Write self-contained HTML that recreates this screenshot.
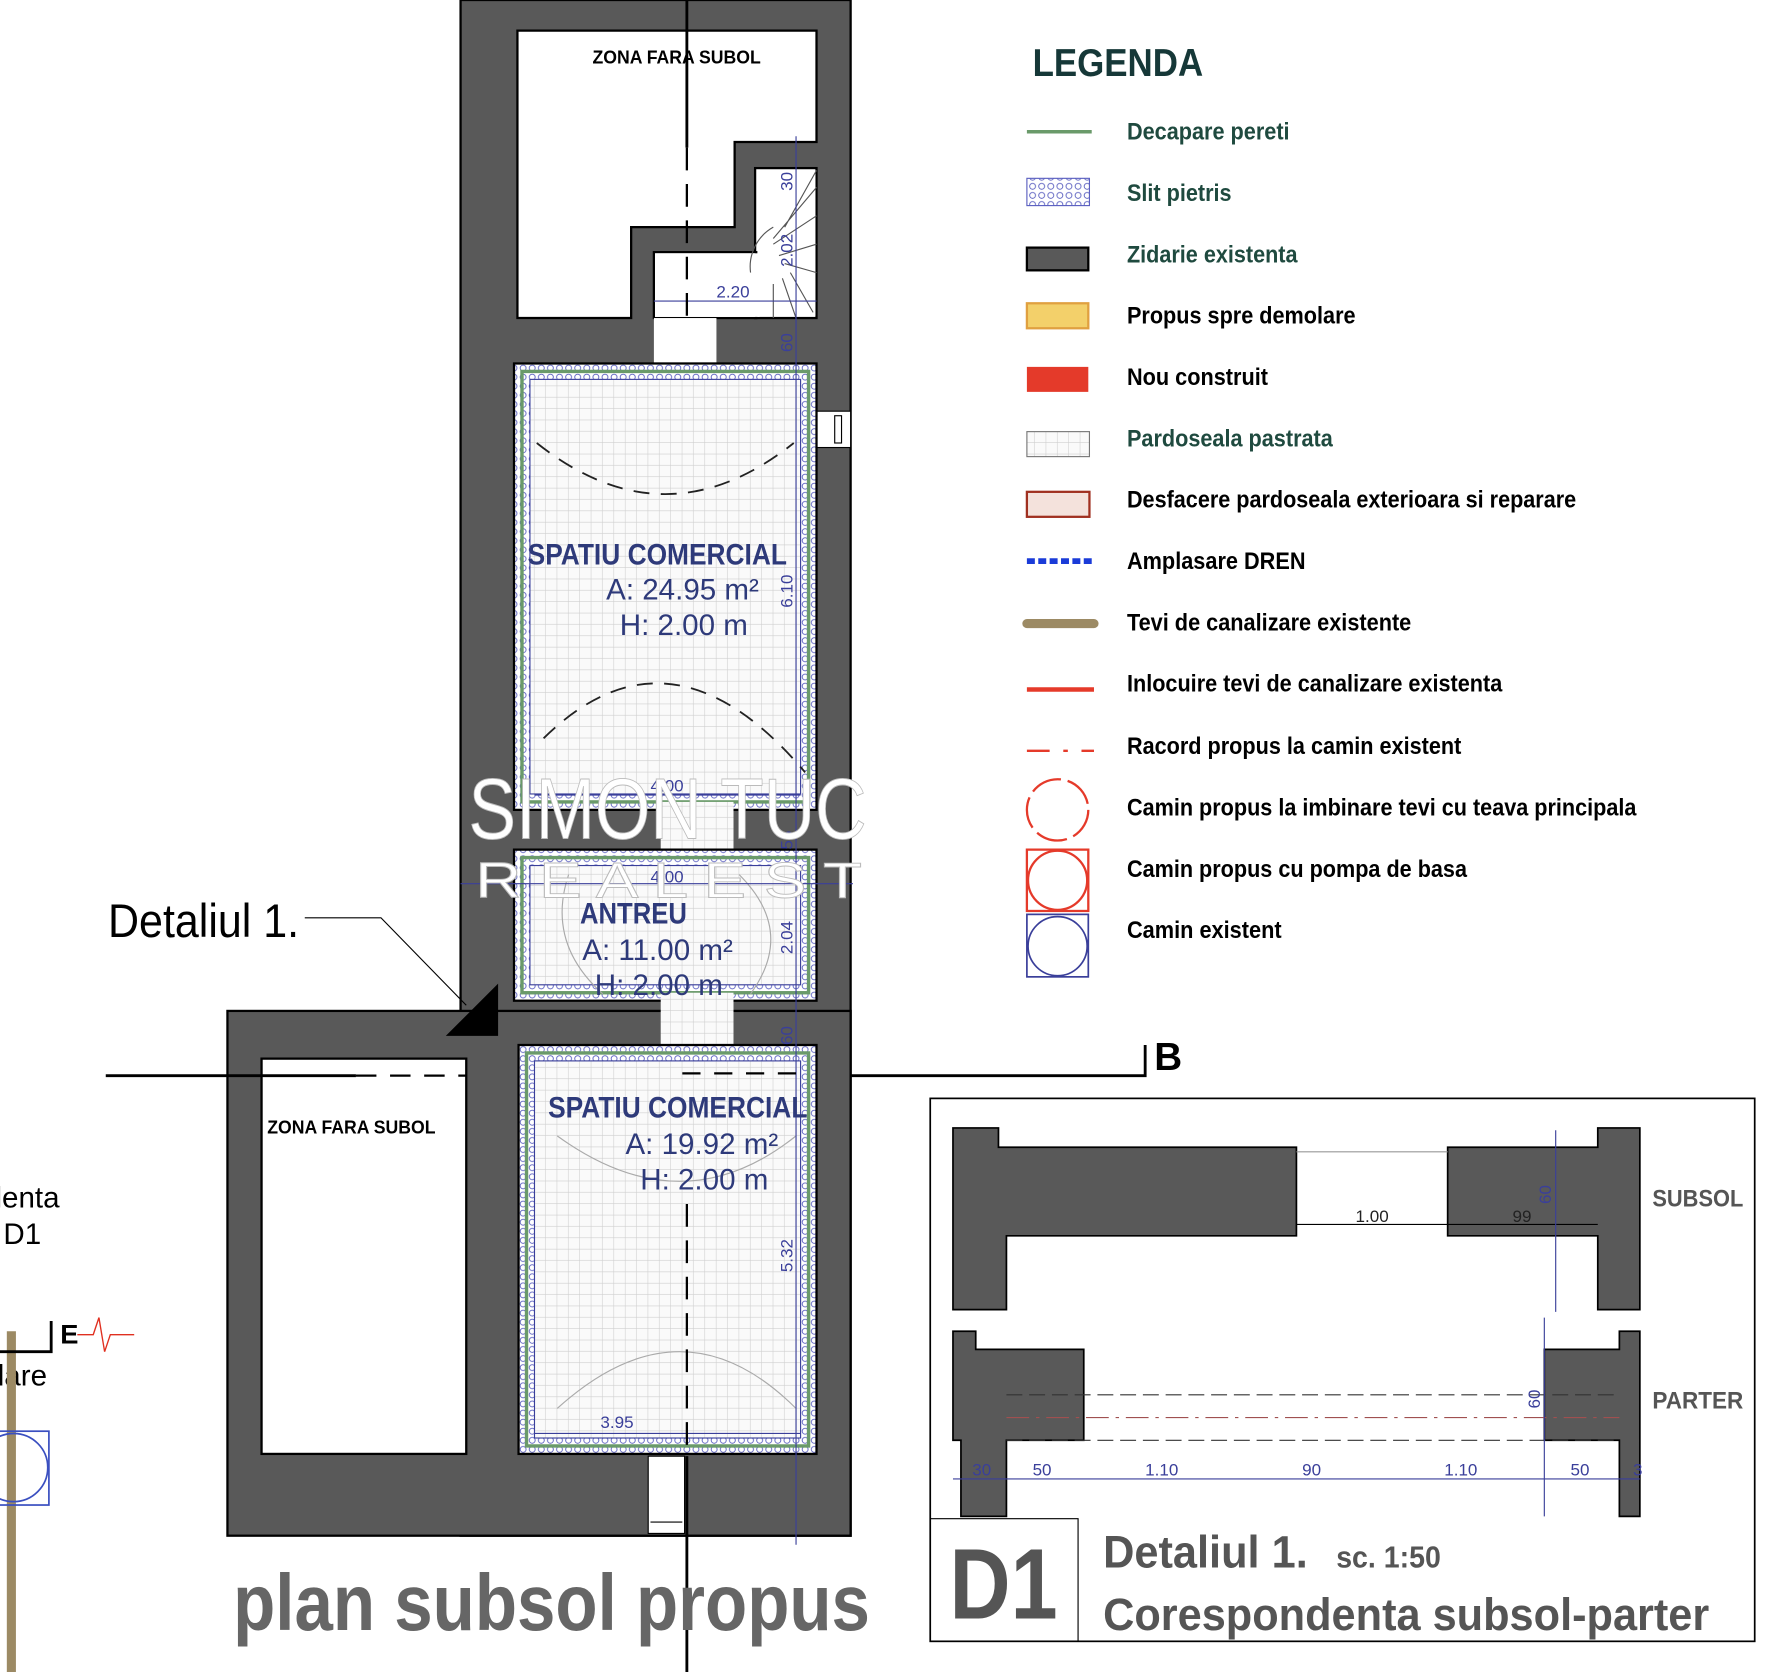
<!DOCTYPE html>
<html><head><meta charset="utf-8"><style>
html,body{margin:0;padding:0;background:#fff;}
svg{display:block;}
text{font-family:"Liberation Sans",sans-serif;}
</style></head><body>
<svg width="1782" height="1672" viewBox="0 0 1567 1472" preserveAspectRatio="none" xmlns="http://www.w3.org/2000/svg">
<defs>
<pattern id="tile" width="10" height="10" patternUnits="userSpaceOnUse">
<rect width="10" height="10" fill="#fafafa"/>
<path d="M10 0V10M0 10H10" stroke="#cfcfcf" stroke-width="1"/>
</pattern>
<pattern id="grav" width="8" height="8" patternUnits="userSpaceOnUse">
<rect width="8" height="8" fill="#fff"/>
<circle cx="4" cy="4" r="2.6" fill="none" stroke="#5a5fc0" stroke-width="0.8"/>
</pattern>
</defs>

<rect x="405" y="0" width="343" height="1352" fill="#595959" stroke="#000" stroke-width="2"/>
<rect x="200" y="890" width="548" height="462" fill="#595959" stroke="#000" stroke-width="2"/>

<polygon points="455,27 718,27 718,125 646,125 646,200 555,200 555,280 455,280" fill="#fff" stroke="#000" stroke-width="2"/>
<rect x="664" y="148" width="54" height="132" fill="#fff" stroke="#000" stroke-width="2"/>
<rect x="575" y="222" width="90" height="58" fill="#fff" stroke="#000" stroke-width="2"/>
<rect x="667" y="150" width="50" height="128" fill="#fff"/>
<rect x="576" y="223" width="92" height="56" fill="#fff"/>
<g stroke="#555" stroke-width="1" fill="none">
<path d="M718 165 L680 210 M718 190 L680 215 M718 215 L685 225 M718 240 L690 232 M715 275 L695 240 M700 280 L688 245 M680 280 L680 250 M718 150 L690 200"/>
<path d="M680 200 A40 40 0 0 0 660 240"/>
</g>
<rect x="575" y="280" width="55" height="40" fill="#fff"/>
<rect x="718" y="362" width="30" height="32" fill="#fff" stroke="#000" stroke-width="1"/>
<rect x="734" y="366" width="6" height="24" fill="none" stroke="#000" stroke-width="1"/>

<rect x="452" y="320" width="266" height="393" fill="url(#grav)" stroke="#000" stroke-width="2"/>
<rect x="459" y="327" width="252" height="379" fill="none" stroke="#6a9a6a" stroke-width="3"/>
<rect x="466" y="334" width="238" height="365" fill="url(#tile)" stroke="#3a3f9a" stroke-width="1"/>
<rect x="581" y="706" width="64" height="48" fill="url(#tile)"/>
<rect x="452" y="748" width="266" height="133" fill="url(#grav)" stroke="#000" stroke-width="2"/>
<rect x="459" y="755" width="252" height="119" fill="none" stroke="#6a9a6a" stroke-width="3"/>
<rect x="466" y="762" width="238" height="105" fill="url(#tile)" stroke="#3a3f9a" stroke-width="1"/>
<rect x="581" y="874" width="64" height="54" fill="url(#tile)"/>
<rect x="456" y="920" width="262" height="360" fill="url(#grav)" stroke="#000" stroke-width="2"/>
<rect x="463" y="927" width="248" height="346" fill="none" stroke="#6a9a6a" stroke-width="3"/>
<rect x="470" y="934" width="234" height="332" fill="url(#tile)" stroke="#3a3f9a" stroke-width="1"/>
<rect x="230" y="932" width="180" height="348" fill="#fff" stroke="#000" stroke-width="2"/>
<rect x="570" y="1282" width="32" height="68" fill="#fff" stroke="#000" stroke-width="1"/>
<line x1="572" y1="1340" x2="600" y2="1340" stroke="#000"/>

<g fill="none" stroke="#222" stroke-width="1.6" stroke-dasharray="14 10">
<path d="M472 390 Q585 480 698 390"/>
<path d="M478 650 Q590 540 708 680"/>
</g>
<g fill="none" stroke="#aaa" stroke-width="1">
<path d="M500 770 Q480 830 530 875"/><path d="M650 770 Q700 820 660 875"/>
<path d="M490 1000 Q600 1080 700 1000"/><path d="M490 1240 Q600 1140 700 1240"/>
</g>

<g stroke="#3a3f9a" stroke-width="1" fill="none">
<line x1="700" y1="120" x2="700" y2="1360"/>
<line x1="575" y1="265" x2="718" y2="265"/>
<line x1="470" y1="700" x2="704" y2="700"/>
<line x1="405" y1="778" x2="750" y2="778"/>
<line x1="470" y1="1262" x2="704" y2="1262"/>
</g>
<g fill="#3a3f9a" font-size="15">
<text x="630" y="262">2.20</text>
<text x="572" y="697">4.00</text>
<text x="572" y="777">4.00</text>
<text x="528" y="1257">3.95</text>
<text transform="translate(697,168) rotate(-90)">30</text>
<text transform="translate(697,235) rotate(-90)">2.02</text>
<text transform="translate(697,310) rotate(-90)">60</text>
<text transform="translate(697,535) rotate(-90)">6.10</text>
<text transform="translate(697,748) rotate(-90)">55</text>
<text transform="translate(697,840) rotate(-90)">2.04</text>
<text transform="translate(697,920) rotate(-90)">60</text>
<text transform="translate(697,1120) rotate(-90)">5.32</text>
</g>

<line x1="604" y1="0" x2="604" y2="130" stroke="#000" stroke-width="2.5"/>
<line x1="604" y1="130" x2="604" y2="280" stroke="#000" stroke-width="2" stroke-dasharray="20 12"/>
<line x1="604" y1="1060" x2="604" y2="1280" stroke="#000" stroke-width="2" stroke-dasharray="20 12"/>
<line x1="604" y1="1282" x2="604" y2="1472" stroke="#000" stroke-width="2.5"/>
<line x1="93" y1="947" x2="313" y2="947" stroke="#000" stroke-width="2.5"/>
<line x1="313" y1="947" x2="410" y2="947" stroke="#000" stroke-width="2" stroke-dasharray="18 12"/>
<line x1="600" y1="945" x2="700" y2="945" stroke="#000" stroke-width="2" stroke-dasharray="16 12"/>
<polyline points="748,947 1007,947 1007,920" fill="none" stroke="#000" stroke-width="2.5"/>
<text x="1015" y="942" font-size="34" font-weight="bold">B</text>

<g fill="#2e3a7a">
<text x="464" y="497" font-size="26" font-weight="bold" textLength="228" lengthAdjust="spacingAndGlyphs">SPATIU COMERCIAL</text>
<text x="533" y="528" font-size="26">A: 24.95 m²</text>
<text x="545" y="559" font-size="26">H: 2.00 m</text>
<text x="510" y="813" font-size="26" font-weight="bold" textLength="94" lengthAdjust="spacingAndGlyphs">ANTREU</text>
<text x="512" y="845" font-size="26">A: 11.00 m²</text>
<text x="523" y="876" font-size="26">H: 2.00 m</text>
<text x="482" y="984" font-size="26" font-weight="bold" textLength="228" lengthAdjust="spacingAndGlyphs">SPATIU COMERCIAL</text>
<text x="550" y="1016" font-size="26">A: 19.92 m²</text>
<text x="563" y="1047" font-size="26">H: 2.00 m</text>
</g>
<text x="521" y="56" font-size="16" font-weight="bold" textLength="148" lengthAdjust="spacingAndGlyphs">ZONA FARA SUBOL</text>
<text x="235" y="998" font-size="16" font-weight="bold" textLength="148" lengthAdjust="spacingAndGlyphs">ZONA FARA SUBOL</text>

<g fill="#fff" stroke="#bbb" stroke-width="0.8">
<text x="412" y="738" font-size="76" textLength="350" lengthAdjust="spacingAndGlyphs">SIMON TUC</text>
<text x="418" y="790" font-size="44" textLength="340" lengthAdjust="spacingAndGlyphs">R E A L  E S T</text>
</g>

<text x="95" y="825" font-size="42" textLength="168" lengthAdjust="spacingAndGlyphs">Detaliul 1.</text>
<polyline points="268,808 335,808 410,885" fill="none" stroke="#000" stroke-width="1"/>
<polygon points="392,912 438,866 438,912" fill="#000"/>

<text x="-4" y="1063" font-size="26">lenta</text>
<text x="3" y="1095" font-size="26">D1</text>
<text x="-2" y="1220" font-size="26">lare</text>
<line x1="10" y1="1172" x2="10" y2="1472" stroke="#9c8a64" stroke-width="8"/>
<rect x="-2" y="1260" width="45" height="65" fill="none" stroke="#3a4fc0" stroke-width="1.5"/>
<circle cx="12" cy="1292" r="30" fill="none" stroke="#3a4fc0" stroke-width="1.5"/>
<polyline points="0,1190 45,1190 45,1163" fill="none" stroke="#000" stroke-width="2.5"/>
<text x="53" y="1183" font-size="24" font-weight="bold">E</text>
<polyline points="68,1175 82,1175 87,1160 92,1190 97,1175 118,1175" fill="none" stroke="#e03020" stroke-width="1.2"/>

<text x="205" y="1435" font-size="70" font-weight="bold" fill="#666" textLength="560" lengthAdjust="spacingAndGlyphs">plan subsol propus</text>

<text x="908" y="67" font-size="34" font-weight="bold" fill="#163838" textLength="150" lengthAdjust="spacingAndGlyphs">LEGENDA</text>
<line x1="903" y1="116" x2="960" y2="116" stroke="#6a9a6a" stroke-width="3"/>
<rect x="903" y="157" width="55" height="24" fill="url(#grav)" stroke="#5a5fc0"/>
<rect x="903" y="218" width="54" height="20" fill="#595959" stroke="#000" stroke-width="2"/>
<rect x="903" y="267" width="54" height="22" fill="#f3d06a" stroke="#e0a040" stroke-width="2"/>
<rect x="903" y="323" width="54" height="22" fill="#e43a2a"/>
<rect x="903" y="380" width="55" height="22" fill="url(#tile)" stroke="#777"/>
<rect x="903" y="433" width="55" height="22" fill="#f4e2dc" stroke="#a03020" stroke-width="2"/>
<line x1="903" y1="494" x2="962" y2="494" stroke="#1a3bd8" stroke-width="5" stroke-dasharray="7 3"/>
<line x1="903" y1="549" x2="962" y2="549" stroke="#9c8a64" stroke-width="8" stroke-linecap="round"/>
<line x1="903" y1="607" x2="962" y2="607" stroke="#e53a2a" stroke-width="4"/>
<line x1="903" y1="661" x2="962" y2="661" stroke="#e53a2a" stroke-width="2" stroke-dasharray="20 12 4 12"/>
<circle cx="930" cy="713" r="27" fill="none" stroke="#e53a2a" stroke-width="2" stroke-dasharray="28 6"/>
<rect x="903" y="748" width="54" height="54" fill="none" stroke="#e53a2a" stroke-width="2"/>
<circle cx="930" cy="775" r="26" fill="none" stroke="#e53a2a" stroke-width="2"/>
<rect x="903" y="805" width="54" height="55" fill="none" stroke="#3a3f9a" stroke-width="1.5"/>
<circle cx="930" cy="833" r="26" fill="none" stroke="#3a3f9a" stroke-width="1.5"/>
<g font-size="21" font-weight="bold">
<text x="991" y="123" fill="#1f4a3f" textLength="143" lengthAdjust="spacingAndGlyphs">Decapare pereti</text>
<text x="991" y="177" fill="#1f4a3f" textLength="92" lengthAdjust="spacingAndGlyphs">Slit pietris</text>
<text x="991" y="231" fill="#1f4a3f" textLength="150" lengthAdjust="spacingAndGlyphs">Zidarie existenta</text>
<text x="991" y="285" textLength="201" lengthAdjust="spacingAndGlyphs">Propus spre demolare</text>
<text x="991" y="339" textLength="124" lengthAdjust="spacingAndGlyphs">Nou construit</text>
<text x="991" y="393" fill="#1f4a3f" textLength="181" lengthAdjust="spacingAndGlyphs">Pardoseala pastrata</text>
<text x="991" y="447" textLength="395" lengthAdjust="spacingAndGlyphs">Desfacere pardoseala exterioara si reparare</text>
<text x="991" y="501" textLength="157" lengthAdjust="spacingAndGlyphs">Amplasare DREN</text>
<text x="991" y="555" textLength="250" lengthAdjust="spacingAndGlyphs">Tevi de canalizare existente</text>
<text x="991" y="609" textLength="330" lengthAdjust="spacingAndGlyphs">Inlocuire tevi de canalizare existenta</text>
<text x="991" y="664" textLength="294" lengthAdjust="spacingAndGlyphs">Racord propus la camin existent</text>
<text x="991" y="718" textLength="448" lengthAdjust="spacingAndGlyphs">Camin propus la imbinare tevi cu teava principala</text>
<text x="991" y="772" textLength="299" lengthAdjust="spacingAndGlyphs">Camin propus cu pompa de basa</text>
<text x="991" y="826" textLength="136" lengthAdjust="spacingAndGlyphs">Camin existent</text>
</g>

<rect x="818" y="967" width="725" height="478" fill="#fff" stroke="#000" stroke-width="1.5"/>
<polyline points="818,1337 948,1337 948,1445" fill="none" stroke="#000" stroke-width="1"/>
<text x="835" y="1425" font-size="88" font-weight="bold" fill="#555" textLength="95" lengthAdjust="spacingAndGlyphs">D1</text>
<text x="970" y="1380" font-size="40" font-weight="bold" fill="#555" textLength="180" lengthAdjust="spacingAndGlyphs">Detaliul 1.</text>
<text x="1175" y="1380" font-size="27" font-weight="bold" fill="#555" textLength="92" lengthAdjust="spacingAndGlyphs">sc. 1:50</text>
<text x="970" y="1435" font-size="40" font-weight="bold" fill="#555" textLength="533" lengthAdjust="spacingAndGlyphs">Corespondenta subsol-parter</text>
<text x="1453" y="1062" font-size="21" font-weight="bold" fill="#555" textLength="80" lengthAdjust="spacingAndGlyphs">SUBSOL</text>
<text x="1453" y="1240" font-size="21" font-weight="bold" fill="#555" textLength="80" lengthAdjust="spacingAndGlyphs">PARTER</text>
<g fill="#595959" stroke="#000" stroke-width="1.5">
<polygon points="838,993 878,993 878,1010 1140,1010 1140,1088 885,1088 885,1153 838,1153"/>
<polygon points="1273,1010 1405,1010 1405,993 1442,993 1442,1153 1405,1153 1405,1088 1273,1088"/>
<polygon points="838,1172 858,1172 858,1188 953,1188 953,1268 885,1268 885,1335 845,1335 845,1268 838,1268"/>
<polygon points="1358,1188 1424,1188 1424,1172 1442,1172 1442,1335 1424,1335 1424,1268 1358,1268"/>
</g>
<line x1="1140" y1="1014" x2="1273" y2="1014" stroke="#999"/>
<g stroke="#333" stroke-width="1" stroke-dasharray="14 6" fill="none">
<line x1="885" y1="1228" x2="1424" y2="1228"/>
<line x1="885" y1="1268" x2="1424" y2="1268"/>
</g>
<line x1="885" y1="1248" x2="1424" y2="1248" stroke="#a05050" stroke-width="1" stroke-dasharray="20 6 3 6"/>
<g stroke="#3a3f9a" stroke-width="1" fill="none">
<line x1="1140" y1="1078" x2="1405" y2="1078" stroke="#000"/>
<line x1="1368" y1="995" x2="1368" y2="1155"/>
<line x1="1358" y1="1160" x2="1358" y2="1335"/>
<line x1="838" y1="1302" x2="1442" y2="1302"/>
</g>
<g font-size="15" fill="#222">
<text x="1192" y="1076">1.00</text>
<text x="1330" y="1076">99</text>
<text transform="translate(1364,1060) rotate(-90)" fill="#3a3f9a">60</text>
<text transform="translate(1354,1240) rotate(-90)" fill="#3a3f9a">60</text>
</g>
<g font-size="15" fill="#3a3f9a">
<text x="855" y="1299">30</text><text x="908" y="1299">50</text>
<text x="1007" y="1299">1.10</text><text x="1145" y="1299">90</text>
<text x="1270" y="1299">1.10</text><text x="1381" y="1299">50</text>
<text x="1436" y="1299">3</text>
</g>
</svg>
</body></html>
